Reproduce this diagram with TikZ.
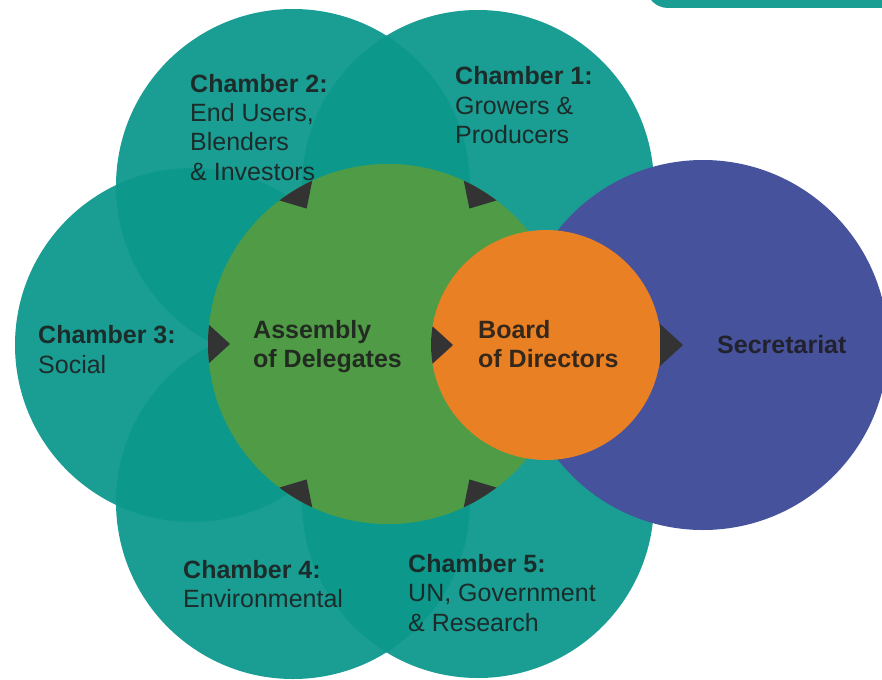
\documentclass[tikz,border=0pt]{standalone}
\usepackage{fontspec}
\setmainfont{Liberation Sans}
\usetikzlibrary{calc}
\definecolor{tealbase}{RGB}{12,152,140}
\definecolor{assemblygreen}{RGB}{80,156,70}
\definecolor{boardorange}{RGB}{233,128,36}
\definecolor{secblue}{RGB}{71,82,156}
\definecolor{arrowgray}{RGB}{51,51,51}
\definecolor{txtdark}{RGB}{28,28,28}
\tikzset{
  chamber/.style={fill=tealbase, fill opacity=0.94},
  arrowtri/.style={fill=arrowgray},
  lbl/.style={anchor=base west, inner sep=0pt, align=left, text=txtdark, text opacity=0.88,
              font=\fontsize{25}{29.5}\selectfont},
  hd/.style={lbl, font=\fontsize{25}{29.5}\selectfont\bfseries},
}
\newcommand\mytri[2]{\fill[arrowtri, shift={#1}, rotate=#2] (-1,-21) -- (-1,21) -- (22,0) -- cycle;}
\begin{document}
\begin{tikzpicture}[x=1pt,y=-1pt]
\useasboundingbox (0,0) rectangle (882,679);
\clip (0,0) rectangle (882,679);
% top-right partial box
\fill[tealbase, fill opacity=0.94, rounded corners=22pt] (646,-60) rectangle (920,8);
% centres
\coordinate (C1) at (478,186);
\coordinate (C2) at (293,186);
\coordinate (C3) at (192,345);
\coordinate (C4) at (293,502);
\coordinate (C5) at (478,502);
\coordinate (G) at (388,344);
\coordinate (O) at (546,345);
\coordinate (S) at (703,345);
% chambers
\fill[chamber] (C1) circle (176pt);
\fill[chamber] (C2) circle (177pt);
\fill[chamber] (C3) circle (177pt);
\fill[chamber] (C4) circle (177pt);
\fill[chamber] (C5) circle (176pt);
% secretariat, assembly, board
\fill[secblue] (S) circle (185pt);
\fill[assemblygreen] (G) circle (180pt);
\fill[boardorange] (O) circle (115pt);
% arrowheads on the assembly circle
\begin{scope}
\clip (G) circle (180pt);
\mytri{($(G)+(-180,0)$)}{0}
\mytri{($(G)+(-92.7,-154.3)$)}{-59}
\mytri{($(G)+(92.7,-154.3)$)}{-121}
\mytri{($(G)+(-92.7,154.3)$)}{59}
\mytri{($(G)+(92.7,154.3)$)}{121}
\end{scope}
\begin{scope}
\clip (O) circle (115pt);
\mytri{($(O)+(-115,0)$)}{0}
\end{scope}
\begin{scope}
\clip (S) circle (185pt);
\mytri{($(O)+(115,0)$)}{0}
\end{scope}
% labels (anchor = baseline of the last line)
\node[lbl] (t2) at (190,180.5) {\textbf{Chamber 2:}\\End Users,\\Blenders\\\& Investors};
\node[lbl] (t1) at (455,144) {\textbf{Chamber 1:}\\Growers \&\\Producers};
\node[lbl] (t3) at (38,373) {\textbf{Chamber 3:}\\Social};
\node[lbl] (t4) at (183,607.5) {\textbf{Chamber 4:}\\Environmental};
\node[lbl] (t5) at (408,631) {\textbf{Chamber 5:}\\UN, Government\\\& Research};
\node[hd] (ta) at (253,367.5) {Assembly\\of Delegates};
\node[hd] (tb) at (478,367.5) {Board\\of Directors};
\node[hd] (ts) at (717,353) {Secretariat};
\end{tikzpicture}
\end{document}
